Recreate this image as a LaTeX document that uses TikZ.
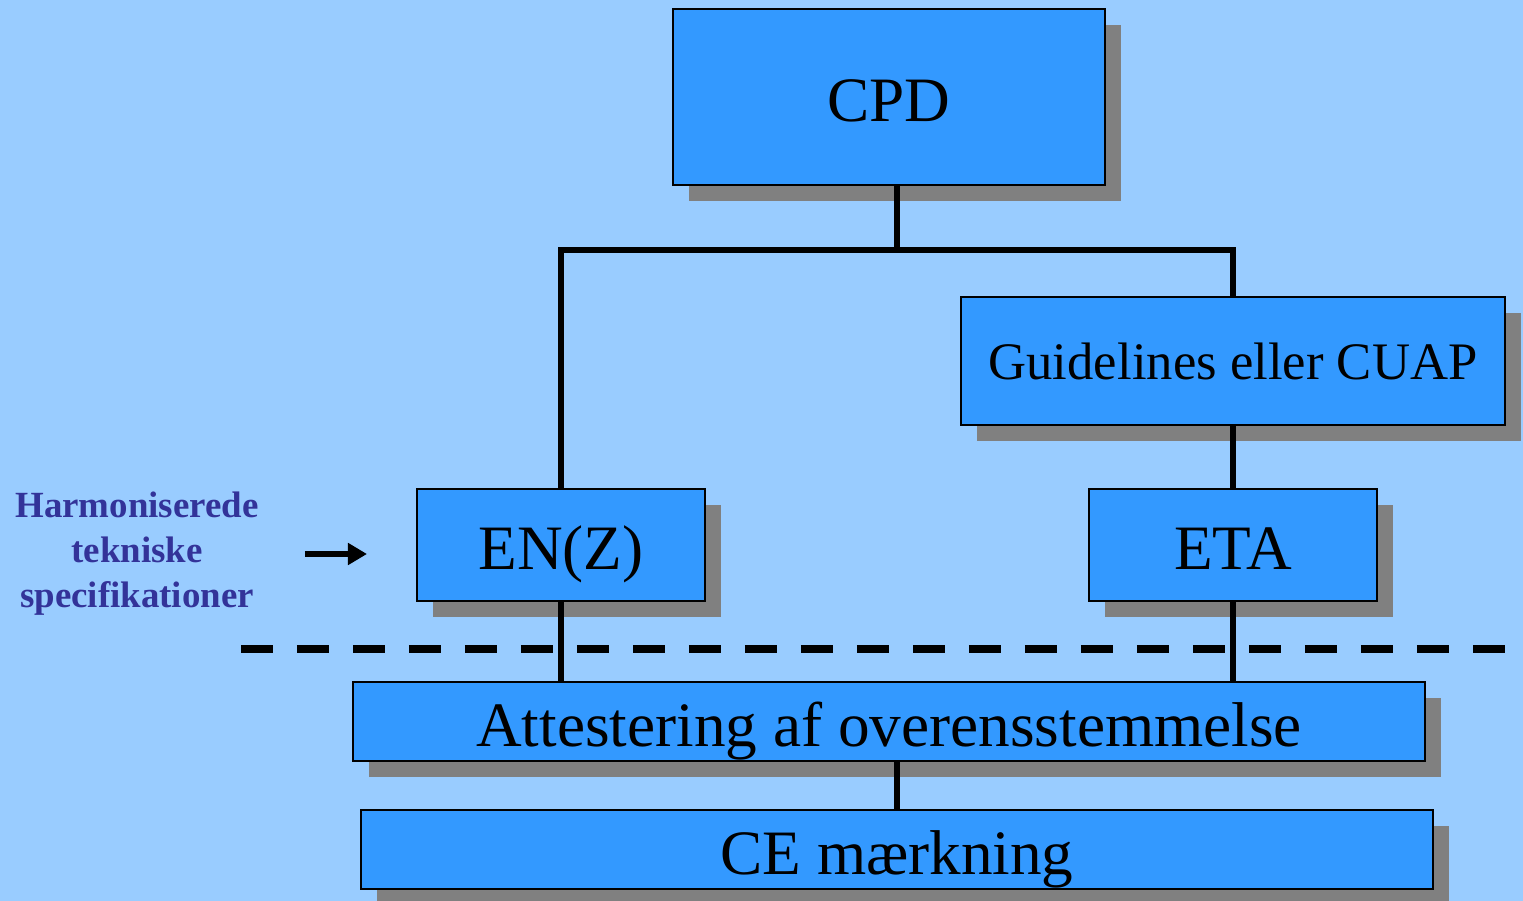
\documentclass[tikz,border=0pt]{standalone}
\usepackage{fontspec}
\setmainfont{Liberation Serif}
\usetikzlibrary{shadows,arrows.meta}
\definecolor{bgblue}{HTML}{99CCFF}
\definecolor{boxblue}{HTML}{3399FF}
\definecolor{shadowgray}{HTML}{808080}
\definecolor{labelblue}{HTML}{333399}
\tikzset{
  box/.style={draw=black, line width=1.2pt, fill=boxblue, inner sep=0pt,
    font=\fontsize{36}{40}\selectfont, text height=1cm, text depth=0pt,
    drop shadow={shadow xshift=0.32cm, shadow yshift=-0.32cm, fill=shadowgray, opacity=1}},
  link/.style={line width=3.2pt},
  pointer/.style={-{Triangle[length=0.38cm, width=0.42cm]}, line width=3pt},
}

\begin{document}
\begin{tikzpicture}[x=0.02cm, y=-0.02cm]
    % Background
    \fill[bgblue] (0,0) rectangle (1523,901);
    \useasboundingbox (0,0) rectangle (1523,901);

    % Draw the boxes
    \node[box, minimum width=8.64cm, minimum height=3.52cm] (cpd) at (889,97) {CPD};
    \node[box, minimum width=10.88cm, minimum height=2.56cm, font=\fontsize{30}{34}\selectfont, text height=0.76cm] (guide) at (1233,361) {Guidelines eller CUAP};
    \node[box, minimum width=5.76cm, minimum height=2.24cm] (enz) at (561,545) {EN(Z)};
    \node[box, minimum width=5.76cm, minimum height=2.24cm] (eta) at (1233,545) {ETA};
    \node[box, minimum width=21.44cm, minimum height=1.58cm] (attest) at (889,721.5) {Attestering af overensstemmelse};
    \node[box, minimum width=21.44cm, minimum height=1.58cm] (ce) at (897,849.5) {CE mærkning};

    % Draw the tree lines
    \coordinate (split) at (897,250);
    \draw[link] (cpd.south -| split) -- (split);
    \draw[link] (enz.north) |- (split) -| (guide.north);
    \draw[link] (guide.south) -- (eta.north);
    \draw[link] (enz.south) -- (enz.south |- attest.north);
    \draw[link] (eta.south) -- (eta.south |- attest.north);
    \draw[link] (attest.south -| ce) -- (ce.north);

    % Dashed separator
    \coordinate (sepleft) at (241,649);
    \coordinate (sepright) at (1505,649);
    \draw[line width=4.8pt, dash pattern=on 0.64cm off 0.48cm] (sepleft) -- (sepright);

    % Side label with arrow
    \node[text=labelblue, font=\bfseries\fontsize{21}{25.6}\selectfont, align=center] (spec) at (137,554) {Harmoniserede\\tekniske\\specifikationer};
    \draw[pointer, shorten <=0.8cm, shorten >=0.98cm] (spec.east) -- (spec.east -| enz.west);
\end{tikzpicture}
\end{document}
